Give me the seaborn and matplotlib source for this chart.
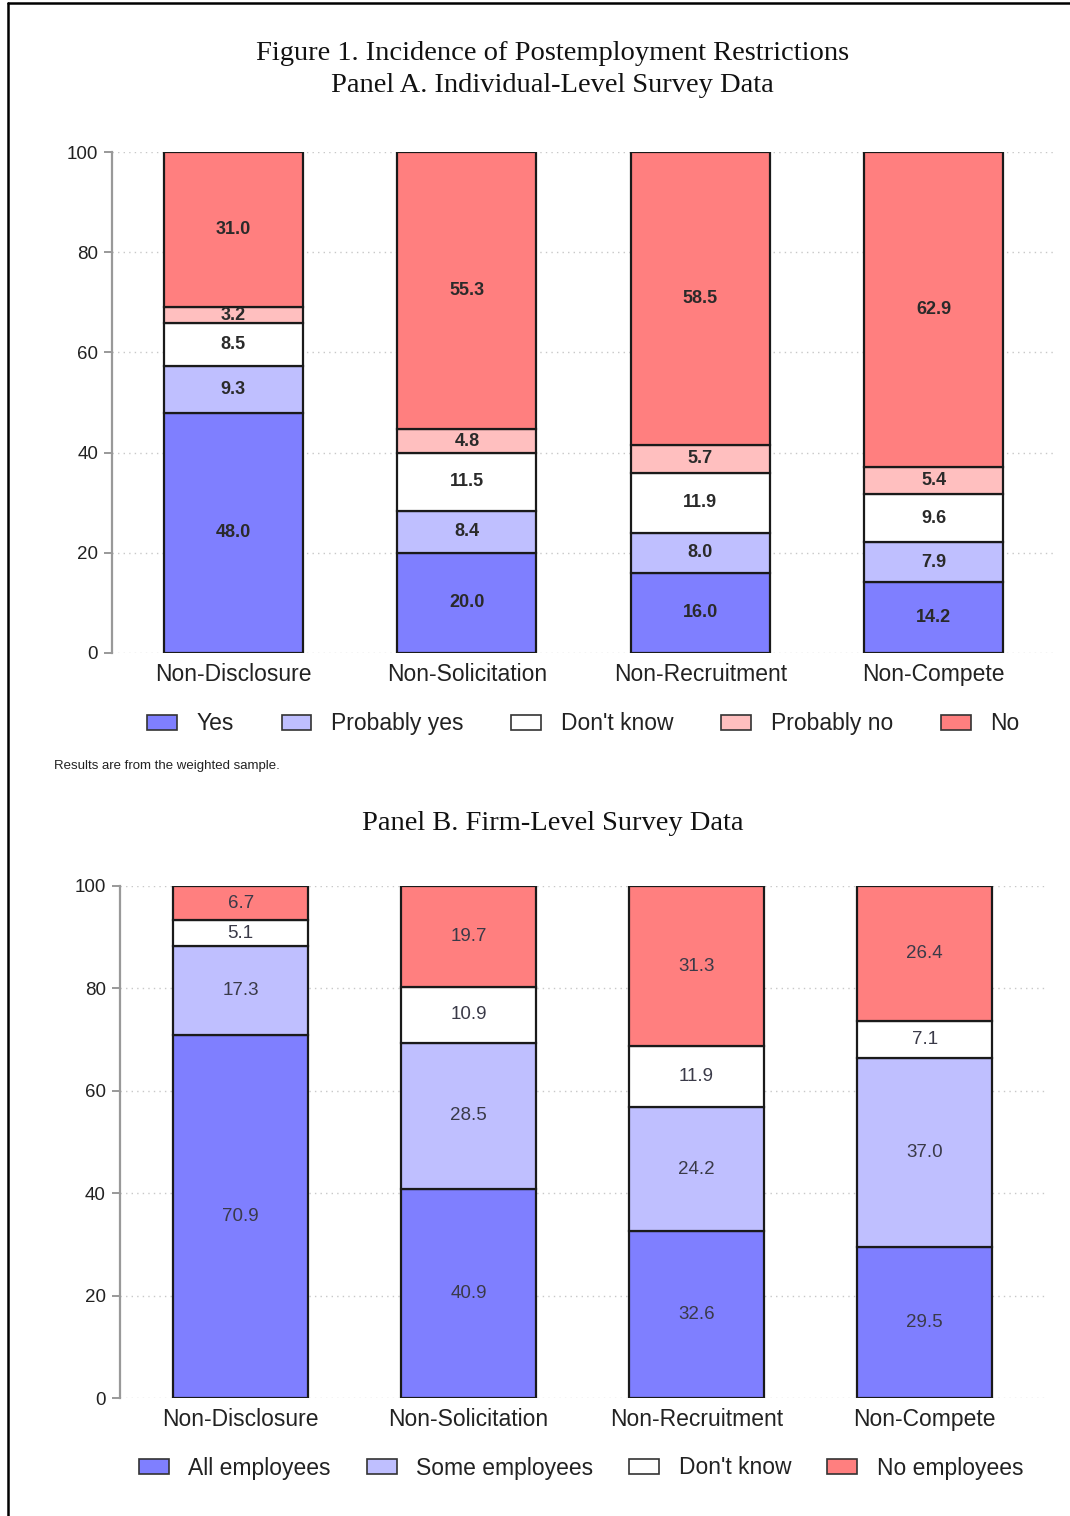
import numpy as np
import pandas as pd
import matplotlib
matplotlib.use('Agg')
import matplotlib.pyplot as plt
import seaborn as sns
from matplotlib.patches import Patch
from matplotlib.lines import Line2D

# data
contracts = ['Non-Disclosure', 'Non-Solicitation', 'Non-Recruitment', 'Non-Compete']

# panel A: individual-level survey
a_labels = ['Yes', 'Probably yes', "Don't know", 'Probably no', 'No']
a_yes = [48.0, 20.0, 16.0, 14.2]
a_prob_yes = [9.3, 8.4, 8.0, 7.9]
a_dont_know = [8.5, 11.5, 11.9, 9.6]
a_prob_no = [3.2, 4.8, 5.7, 5.4]
a_no = [31.0, 55.3, 58.5, 62.9]

# panel B: firm-level survey
b_labels = ['All employees', 'Some employees', "Don't know", 'No employees']
b_all = [70.9, 40.9, 32.6, 29.5]
b_some = [17.3, 28.5, 24.2, 37.0]
b_dont_know = [5.1, 10.9, 11.9, 7.1]
b_none = [6.7, 19.7, 31.3, 26.4]

yticks = [0, 20, 40, 60, 80, 100]

sns.set_theme(style='white')
plt.rcParams['font.family'] = ['Liberation Sans', 'DejaVu Sans']

c_yes = '#7f7fff'
c_pyes = '#bfbfff'
c_dk = '#ffffff'
c_pno = '#ffbfbf'
c_no = '#ff7f7f'

fig = plt.figure(figsize=(10.7, 15.16), dpi=100)
axA = fig.add_axes([0.1047, 0.5693, 0.986 - 0.1047, 0.8997 - 0.5693])
axB = fig.add_axes([0.112, 0.0778, 0.977 - 0.112, 0.4156 - 0.0778])


def stacked(ax, series, colors, width, lab_size, lab_color, lab_weight):
    df = pd.DataFrame(dict(zip(range(len(series)), series)), index=contracts)
    bottom = np.zeros(len(contracts))
    for i, col in enumerate(df.columns):
        vals = df[col].values
        sns.barplot(x=contracts, y=vals, bottom=bottom, color=colors[i],
                    saturation=1, width=width, edgecolor='#1a1a1a',
                    linewidth=1.6, ax=ax, zorder=3)
        for j, v in enumerate(vals):
            ax.text(j, bottom[j] + v / 2, f'{v:.1f}', ha='center', va='center',
                    fontsize=lab_size, color=lab_color, weight=lab_weight,
                    zorder=5)
        bottom = bottom + vals


def style(ax, xpad):
    ax.set_ylim(0, 100)
    ax.set_xlim(-xpad, 3 + xpad)
    ax.set_yticks(yticks)
    ax.set_yticklabels([str(t) for t in yticks], fontsize=13.5, color='#222')
    ax.tick_params(axis='y', length=6, width=1.2, color='#888', pad=4, left=True)
    ax.tick_params(axis='x', length=0, labelsize=16.5, labelcolor='#222', pad=7)
    for t in yticks:
        ax.axhline(t, color='#c8c8c8', lw=1.0, ls=(0, (1, 3)), zorder=1)
    for s in ['top', 'right', 'bottom']:
        ax.spines[s].set_visible(False)
    ax.spines['left'].set_color('#999')
    ax.spines['left'].set_linewidth(1.6)
    ax.set_xlabel('')
    ax.set_ylabel('')


stacked(axA, [a_yes, a_prob_yes, a_dont_know, a_prob_no, a_no],
        [c_yes, c_pyes, c_dk, c_pno, c_no], 0.595, 13, '#2a2a2a', 'bold')
style(axA, 0.52)

stacked(axB, [b_all, b_some, b_dont_know, b_none],
        [c_yes, c_pyes, c_dk, c_no], 0.59, 13.5, '#3a3a48', 'normal')
style(axB, 0.53)

legend_kw = dict(loc='center', frameon=False, fontsize=16.5,
                 handlelength=1.3, handleheight=0.6, handletextpad=0.85)
hA = [Patch(facecolor=c, edgecolor='#333', linewidth=1.2)
      for c in [c_yes, c_pyes, c_dk, c_pno, c_no]]
legA = fig.legend(hA, a_labels, bbox_to_anchor=(0.545, 1 - 724 / 1516),
                  ncol=5, columnspacing=2.1, **legend_kw)
for t in legA.get_texts():
    t.set_color('#222')
hB = [Patch(facecolor=c, edgecolor='#333', linewidth=1.2)
      for c in [c_yes, c_pyes, c_dk, c_no]]
legB = fig.legend(hB, b_labels, bbox_to_anchor=(0.543, 1 - 1468 / 1516),
                  ncol=4, columnspacing=1.58, **legend_kw)
for t in legB.get_texts():
    t.set_color('#222')

fig.text(54 / 1070, 1 - 766 / 1516, 'Results are from the weighted sample.',
         fontsize=9.5, color='#222', ha='left', va='center')

serif = ['Liberation Serif', 'DejaVu Serif']
fig.text(0.5165, 1 - 53 / 1516, 'Figure 1. Incidence of Postemployment Restrictions',
         family=serif, fontsize=20.5, ha='center', va='center', color='#111')
fig.text(0.5165, 1 - 86 / 1516, 'Panel A. Individual-Level Survey Data',
         family=serif, fontsize=20.5, ha='center', va='center', color='#111')
fig.text(0.5165, 1 - 823 / 1516, 'Panel B. Firm-Level Survey Data',
         family=serif, fontsize=20.5, ha='center', va='center', color='#111')

# page frame
fig.add_artist(Line2D([8 / 1070, 8 / 1070], [0, 1 - 3 / 1516], color='black', lw=1.8))
fig.add_artist(Line2D([8 / 1070, 1], [1 - 3 / 1516, 1 - 3 / 1516], color='black', lw=1.8))

fig.savefig('out.png', dpi=100)
